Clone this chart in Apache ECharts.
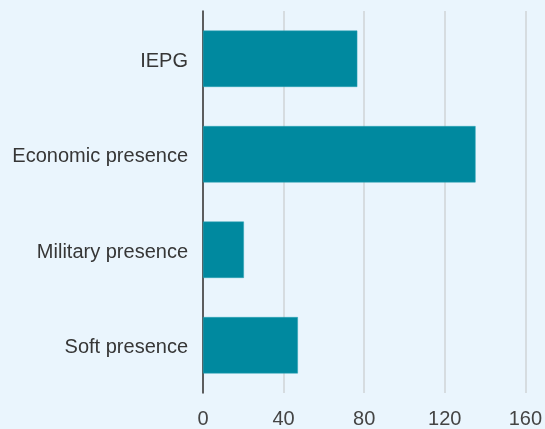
<!DOCTYPE html>
<html><head><meta charset="utf-8">
<script src="https://cdn.jsdelivr.net/npm/echarts@6/dist/echarts.min.js"></script>
<style>html,body{margin:0;padding:0;background:#eaf5fd;}#c{width:545px;height:429px;}</style>
</head><body><div id="c"></div>
<script>
const categories = ["IEPG", "Economic presence", "Military presence", "Soft presence"];
const values = [76.6, 135.3, 20.3, 47.1];
const ticks = [0, 40, 80, 120, 160];

const chart = echarts.init(document.getElementById('c'), null, {renderer: 'canvas'});
chart.setOption({
  backgroundColor: '#eaf5fd',
  animation: false,
  grid: {left: 203, right: 19, top: 11, bottom: 33, containLabel: false},
  xAxis: {
    type: 'value', min: ticks[0], max: ticks[ticks.length-1], interval: 40,
    axisLine: {show: false}, axisTick: {show: false},
    splitLine: {show: true, lineStyle: {color: '#cfd3d6', width: 1.5}},
    axisLabel: {color: '#444', fontFamily: 'Liberation Sans, Arial', fontSize: 20, margin: 16}
  },
  yAxis: {
    type: 'category', data: categories, inverse: true,
    axisLine: {show: true, lineStyle: {color: '#333', width: 1.5}},
    axisTick: {show: false},
    axisLabel: {
      margin: 15,
      formatter: v => '{a|' + v + '}',
      rich: {a: {color: '#363636', fontFamily: 'Liberation Sans, Arial', fontSize: 20, padding: [5, 0, 0, 0]}}
    }
  },
  series: [{
    type: 'bar', data: values, barCategoryGap: '41%',
    itemStyle: {color: '#00899f', borderColor: '#2aa3b5', borderWidth: 0.5}
  }]
});
</script></body></html>
